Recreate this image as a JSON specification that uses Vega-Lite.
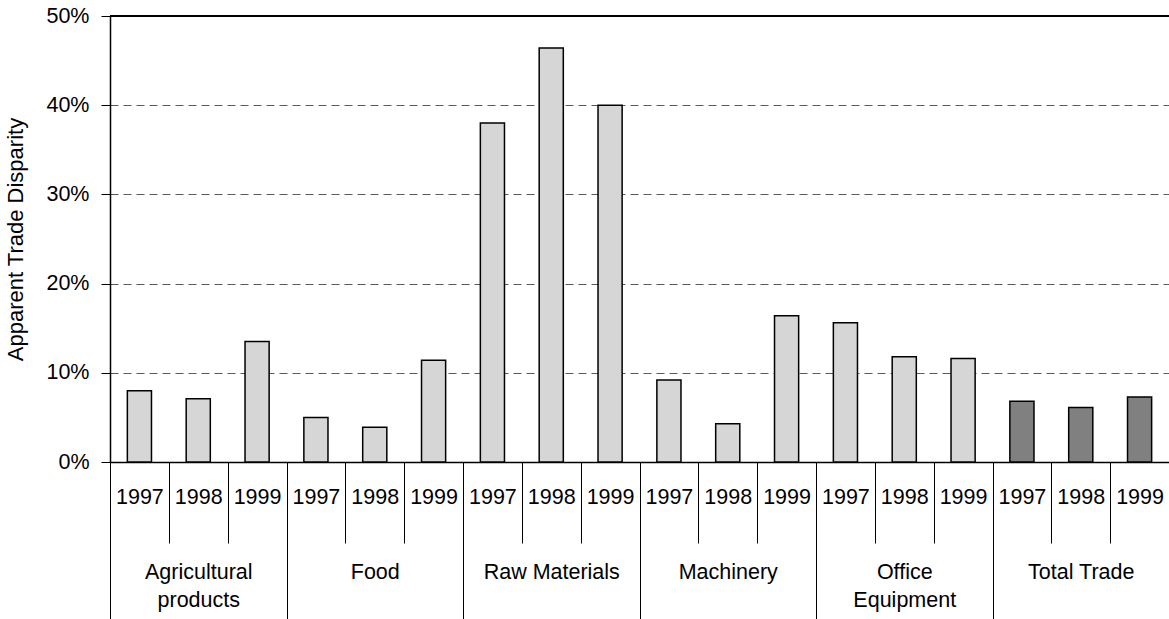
{
  "$schema": "https://vega.github.io/schema/vega-lite/v6.json",
  "width": 1059,
  "height": 446,
  "autosize": {"type": "none"},
  "padding": {"left": 110, "top": 16, "right": 0, "bottom": 157},
  "background": "white",
  "config": {
    "view": {"stroke": null},
    "font": "Liberation Sans",
    "axis": {"labelColor": "black", "titleColor": "black", "labelFont": "Liberation Sans", "titleFont": "Liberation Sans"}
  },
  "data": {
    "values": [
      {"cat": "Agricultural products", "year": "1997", "key": "Agricultural products 1997", "type": "Category", "value": 0.080},
      {"cat": "Agricultural products", "year": "1998", "key": "Agricultural products 1998", "type": "Category", "value": 0.071},
      {"cat": "Agricultural products", "year": "1999", "key": "Agricultural products 1999", "type": "Category", "value": 0.135},
      {"cat": "Food", "year": "1997", "key": "Food 1997", "type": "Category", "value": 0.050},
      {"cat": "Food", "year": "1998", "key": "Food 1998", "type": "Category", "value": 0.039},
      {"cat": "Food", "year": "1999", "key": "Food 1999", "type": "Category", "value": 0.114},
      {"cat": "Raw Materials", "year": "1997", "key": "Raw Materials 1997", "type": "Category", "value": 0.380},
      {"cat": "Raw Materials", "year": "1998", "key": "Raw Materials 1998", "type": "Category", "value": 0.464},
      {"cat": "Raw Materials", "year": "1999", "key": "Raw Materials 1999", "type": "Category", "value": 0.400},
      {"cat": "Machinery", "year": "1997", "key": "Machinery 1997", "type": "Category", "value": 0.092},
      {"cat": "Machinery", "year": "1998", "key": "Machinery 1998", "type": "Category", "value": 0.043},
      {"cat": "Machinery", "year": "1999", "key": "Machinery 1999", "type": "Category", "value": 0.164},
      {"cat": "Office Equipment", "year": "1997", "key": "Office Equipment 1997", "type": "Category", "value": 0.156},
      {"cat": "Office Equipment", "year": "1998", "key": "Office Equipment 1998", "type": "Category", "value": 0.118},
      {"cat": "Office Equipment", "year": "1999", "key": "Office Equipment 1999", "type": "Category", "value": 0.116},
      {"cat": "Total Trade", "year": "1997", "key": "Total Trade 1997", "type": "Total", "value": 0.068},
      {"cat": "Total Trade", "year": "1998", "key": "Total Trade 1998", "type": "Total", "value": 0.061},
      {"cat": "Total Trade", "year": "1999", "key": "Total Trade 1999", "type": "Total", "value": 0.073}
    ]
  },
  "layer": [
    {
      "mark": {"type": "bar", "opacity": 0},
      "encoding": {
        "x": {
          "field": "cat", "type": "nominal", "sort": null,
          "scale": {"paddingInner": 0, "paddingOuter": 0},
          "axis": {
            "orient": "bottom", "title": null, "domain": false, "grid": false,
            "labelAngle": 0, "tickBand": "extent", "tickSize": 157, "tickColor": "black", "tickWidth": 1,
            "labelPadding": -58, "labelBaseline": "top", "labelFontSize": 21.5, "labelLineHeight": 28,
            "labelLimit": 400,
            "labelExpr": "datum.label == 'Agricultural products' ? ['Agricultural', 'products'] : datum.label == 'Office Equipment' ? ['Office', 'Equipment'] : datum.label"
          }
        },
        "y": {"field": "value", "type": "quantitative"}
      }
    },
    {
      "mark": {"type": "bar", "width": {"band": 0.41}, "stroke": "black", "strokeWidth": 1.5},
      "encoding": {
        "x": {
          "field": "key", "type": "nominal", "sort": null,
          "scale": {"paddingInner": 0, "paddingOuter": 0},
          "axis": {
            "orient": "bottom", "title": null, "domain": true, "domainColor": "black", "domainWidth": 1.5, "grid": false,
            "labelAngle": 0, "tickBand": "extent", "tickSize": 81, "tickColor": "black", "tickWidth": 1,
            "labelPadding": -46, "labelBaseline": "middle", "labelFontSize": 21.5,
            "labelExpr": "slice(datum.label, -4)"
          }
        },
        "y": {
          "field": "value", "type": "quantitative",
          "scale": {"domain": [0, 0.5]},
          "axis": {
            "title": "Apparent Trade Disparity", "titleFontSize": 22, "titleFontWeight": "normal", "titlePadding": 18,
            "format": ".0%", "values": [0, 0.1, 0.2, 0.3, 0.4, 0.5],
            "tickSize": 9, "tickColor": "black", "domainColor": "black", "domainWidth": 1.5,
            "labelFontSize": 21.5, "labelPadding": 12,
            "grid": true, "gridDash": [8, 5], "gridColor": "#5a5a5a", "gridWidth": 1
          }
        },
        "fill": {
          "field": "type", "type": "nominal",
          "scale": {"domain": ["Category", "Total"], "range": ["#d6d6d6", "#808080"]},
          "legend": null
        }
      }
    },
    {
      "mark": {"type": "rule", "color": "black", "strokeWidth": 1.5},
      "encoding": {"y": {"datum": 0.5}}
    }
  ],
  "resolve": {"scale": {"x": "independent"}, "axis": {"x": "independent"}}
}
